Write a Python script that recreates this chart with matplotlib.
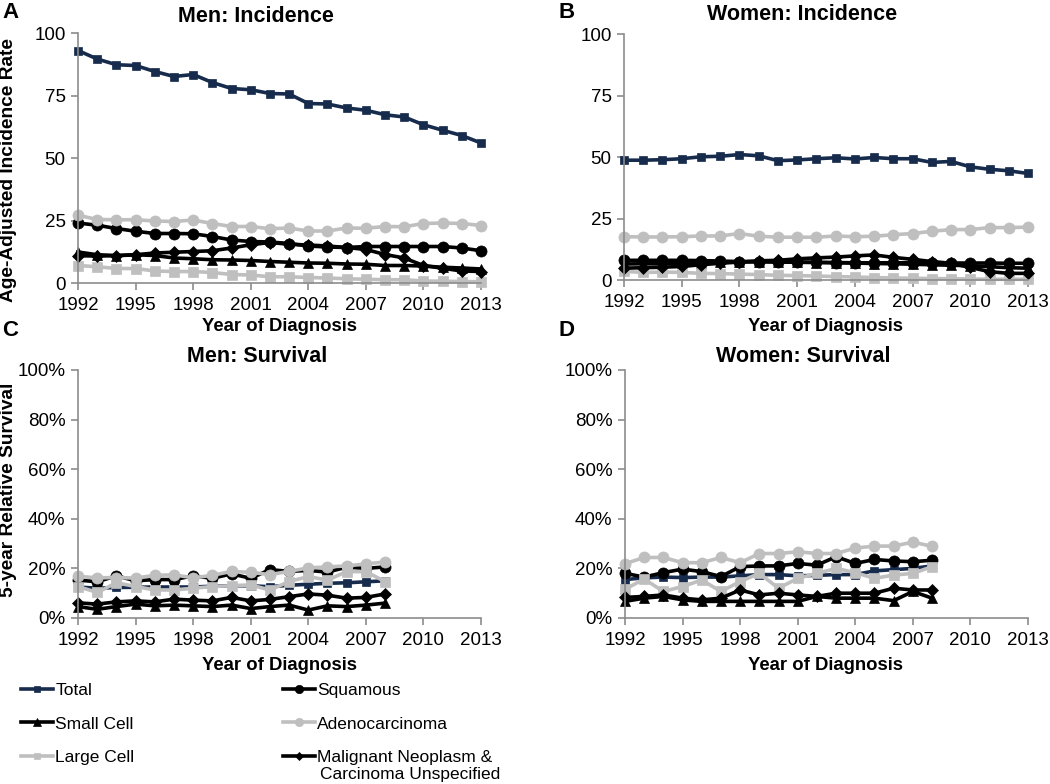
"""
Lung cancer incidence and 5-year relative survival by histologic type, men vs women.
"""

import numpy as np
import matplotlib.pyplot as plt
from matplotlib.ticker import PercentFormatter

plt.rcParams['font.family'] = ['Liberation Sans', 'DejaVu Sans']

# ---------------- data ----------------
years_inc = np.arange(1992, 2014)
years_surv = np.arange(1992, 2009)
xticks = [1992, 1995, 1998, 2001, 2004, 2007, 2010, 2013]

series_names = ['Total', 'Squamous', 'Small Cell', 'Adenocarcinoma',
                'Large Cell', 'Malignant Neoplasm &']

# men incidence (age-adjusted rate)
total_m = [93.0, 89.6, 87.3, 87.0, 84.6, 82.6, 83.4, 80.2, 77.8, 77.3, 75.8,
           75.6, 71.8, 71.6, 70.0, 69.1, 67.3, 66.4, 63.3, 61.1, 59.0, 56.0]
squam_m = [24.0, 23.1, 21.8, 20.7, 19.8, 19.8, 19.7, 18.6, 17.2, 16.6, 16.4,
           15.8, 14.8, 14.4, 14.2, 14.6, 14.6, 14.6, 14.6, 14.6, 14.0, 12.9]
small_m = [12.4, 11.3, 11.0, 11.3, 11.0, 10.0, 9.7, 9.3, 9.2, 9.0, 8.6,
           8.3, 8.0, 7.9, 7.6, 7.5, 7.0, 7.0, 6.8, 6.3, 6.0, 5.6]
adeno_m = [27.1, 25.4, 25.3, 25.3, 24.8, 24.6, 25.2, 23.8, 22.6, 22.6, 21.7,
           22.0, 20.8, 20.8, 22.0, 21.9, 22.6, 22.5, 23.8, 24.0, 23.8, 23.0]
large_m = [7.0, 6.5, 5.8, 5.8, 4.8, 4.6, 4.6, 4.2, 3.4, 3.2, 2.5,
           2.5, 2.2, 2.0, 1.7, 1.5, 1.3, 1.3, 0.8, 0.7, 0.6, 0.5]
malig_m = [10.9, 10.8, 10.9, 11.3, 12.0, 12.3, 12.6, 12.9, 14.0, 15.3, 16.2,
           15.5, 15.2, 14.8, 14.2, 13.4, 11.4, 10.0, 7.0, 5.9, 4.8, 4.6]

# women incidence
total_w = [48.7, 48.7, 48.9, 49.3, 50.1, 50.3, 51.0, 50.5, 48.5, 48.8, 49.3,
           49.7, 49.2, 49.8, 49.3, 49.3, 47.8, 48.2, 46.0, 45.0, 44.4, 43.3]
squam_w = [8.0, 8.0, 8.0, 8.0, 7.9, 7.7, 7.5, 7.5, 7.4, 7.3, 7.2,
           7.1, 7.0, 7.0, 7.0, 7.0, 6.9, 6.9, 6.9, 6.9, 6.8, 6.8]
small_w = [6.5, 6.6, 6.6, 6.8, 7.0, 7.2, 7.3, 7.4, 7.3, 7.2, 7.1,
           7.0, 6.9, 6.7, 6.6, 6.4, 6.2, 6.0, 5.8, 5.4, 5.0, 4.8]
adeno_w = [17.6, 17.5, 17.5, 17.6, 17.9, 17.9, 18.9, 17.8, 17.4, 17.4, 17.4,
           17.9, 17.6, 17.8, 18.4, 18.9, 19.8, 20.5, 20.5, 21.3, 21.3, 21.5]
large_w = [3.5, 3.1, 3.2, 3.1, 2.7, 2.6, 2.4, 2.2, 1.9, 1.8, 1.6,
           1.4, 1.2, 1.0, 0.8, 0.7, 0.6, 0.5, 0.4, 0.3, 0.3, 0.3]
malig_w = [4.8, 5.0, 5.2, 5.5, 6.2, 6.8, 7.3, 7.8, 8.0, 8.6, 9.0,
           9.3, 9.8, 10.2, 9.2, 8.4, 7.5, 6.8, 5.1, 3.4, 2.7, 2.7]

# men 5-year relative survival (%)
total_ms = [12.5, 12.0, 12.3, 12.4, 12.5, 12.5, 12.5, 12.8, 13.0, 13.0, 12.6,
            13.2, 13.6, 14.0, 14.2, 14.6, 15.0]
squam_ms = [15.3, 14.6, 17.0, 15.0, 15.5, 15.5, 17.0, 16.0, 17.8, 16.0, 19.5,
            18.8, 19.2, 18.5, 20.5, 20.0, 20.6]
small_ms = [4.6, 3.5, 4.6, 5.6, 4.9, 5.2, 4.9, 4.6, 5.2, 3.8, 4.6,
            5.2, 3.2, 4.9, 4.6, 5.2, 6.0]
adeno_ms = [16.8, 16.2, 16.3, 16.1, 17.2, 17.4, 16.2, 17.2, 18.8, 18.4, 17.5,
            18.8, 20.2, 20.6, 21.0, 21.8, 22.6]
large_ms = [12.7, 10.3, 14.2, 12.7, 11.3, 11.3, 12.0, 12.7, 13.0, 13.3, 11.3,
            14.7, 16.7, 15.3, 18.7, 18.7, 14.7]
malig_ms = [6.1, 5.6, 6.5, 6.9, 6.5, 7.6, 7.2, 6.9, 8.3, 6.9, 7.5,
            8.6, 9.7, 9.2, 8.0, 8.3, 9.7]

# women 5-year relative survival (%)
total_ws = [15.5, 16.2, 16.5, 16.3, 16.5, 16.5, 17.0, 17.5, 17.5, 17.0, 17.2,
            17.5, 17.5, 19.0, 19.5, 20.0, 21.0]
squam_ws = [18.0, 16.5, 18.3, 19.7, 18.7, 16.7, 20.7, 21.0, 21.0, 22.0, 21.3,
            24.7, 22.0, 23.6, 23.0, 22.7, 23.3]
small_ws = [6.7, 8.0, 8.7, 7.3, 6.7, 6.7, 6.7, 6.7, 6.7, 6.7, 8.7,
            8.0, 8.0, 8.0, 7.0, 10.7, 8.0]
adeno_ws = [21.9, 24.4, 24.4, 22.3, 22.3, 24.4, 22.3, 26.0, 26.0, 26.7, 26.0,
            26.0, 28.2, 29.0, 29.0, 30.6, 28.9]
large_ws = [11.6, 15.7, 10.7, 12.7, 15.3, 10.7, 14.7, 18.0, 12.0, 16.0, 18.0,
            20.0, 18.3, 16.0, 17.3, 18.0, 20.7]
malig_ws = [8.3, 8.7, 9.3, 8.0, 7.3, 8.0, 11.3, 9.3, 10.0, 9.3, 8.7,
            10.0, 10.0, 10.0, 12.0, 11.3, 11.3]

# ---------------- styles ----------------
NAVY = '#172b4d'
GRAY = '#bfbfbf'
SPINE = '#8c8c8c'
styles = [
    dict(color=NAVY, marker='s', markersize=6),
    dict(color='black', marker='o', markersize=8),
    dict(color='black', marker='^', markersize=7),
    dict(color=GRAY, marker='o', markersize=8),
    dict(color=GRAY, marker='s', markersize=6.5),
    dict(color='black', marker='D', markersize=6),
]


def style_axis(ax, ymax, yticks, percent=False):
    ax.set_xlim(1992, 2013)
    ax.set_ylim(0, ymax)
    ax.set_xticks(xticks)
    ax.set_yticks(yticks)
    for s in ['top', 'right']:
        ax.spines[s].set_visible(False)
    for s in ['left', 'bottom']:
        ax.spines[s].set_color(SPINE)
        ax.spines[s].set_linewidth(1.2)
    ax.tick_params(axis='both', colors=SPINE, labelcolor='black',
                   labelsize=13.5, length=5, width=1.2, direction='out')
    ax.tick_params(axis='x', pad=5)
    ax.tick_params(axis='y', pad=4)
    if percent:
        ax.yaxis.set_major_formatter(PercentFormatter(100, decimals=0))


def draw_panel(ax, years, data):
    handles = []
    for vals, st, name in zip(data, styles, series_names):
        h, = ax.plot(years, vals, linewidth=2.6, clip_on=False, label=name,
                     markeredgewidth=0.5, markeredgecolor=st['color'], **st)
        handles.append(h)
    return handles


fig = plt.figure(figsize=(10.5, 7.84), dpi=100)
W, H = 1050, 784


def add_ax(left, top, right, bottom):
    return fig.add_axes([left / W, 1 - bottom / H, (right - left) / W, (bottom - top) / H])


axA = add_ax(78, 33, 481, 283)
axB = add_ax(624, 34, 1028, 280)
axC = add_ax(78, 370, 481, 618)
axD = add_ax(625, 370, 1028, 618)

handles = draw_panel(axA, years_inc, [total_m, squam_m, small_m, adeno_m, large_m, malig_m])
draw_panel(axB, years_inc, [total_w, squam_w, small_w, adeno_w, large_w, malig_w])
draw_panel(axC, years_surv, [total_ms, squam_ms, small_ms, adeno_ms, large_ms, malig_ms])
draw_panel(axD, years_surv, [total_ws, squam_ws, small_ws, adeno_ws, large_ws, malig_ws])

for ax in (axA, axB):
    style_axis(ax, 100, [0, 25, 50, 75, 100])
for ax in (axC, axD):
    style_axis(ax, 100, [0, 20, 40, 60, 80, 100], percent=True)

# titles, panel letters, axis labels
title_kw = dict(fontsize=15.5, fontweight='bold', ha='center', va='center')
fig.text(256 / W, 1 - 16 / H, 'Men: Incidence', **title_kw)
fig.text(802 / W, 1 - 14 / H, 'Women: Incidence', **title_kw)
fig.text(257 / W, 1 - 357 / H, 'Men: Survival', **title_kw)
fig.text(803 / W, 1 - 357 / H, 'Women: Survival', **title_kw)

letter_kw = dict(fontsize=16, fontweight='bold', ha='center', va='center')
fig.text(10 / W, 1 - 13 / H, 'A', **letter_kw)
fig.text(567 / W, 1 - 12 / H, 'B', **letter_kw)
fig.text(10 / W, 1 - 331 / H, 'C', **letter_kw)
fig.text(567 / W, 1 - 331 / H, 'D', **letter_kw)

lab_kw = dict(fontsize=13.3, fontweight='bold', ha='center', va='center')
fig.text(280 / W, 1 - 326 / H, 'Year of Diagnosis', **lab_kw)
fig.text(826 / W, 1 - 326 / H, 'Year of Diagnosis', **lab_kw)
fig.text(280 / W, 1 - 665 / H, 'Year of Diagnosis', **lab_kw)
fig.text(826 / W, 1 - 665 / H, 'Year of Diagnosis', **lab_kw)
ylab_kw = dict(lab_kw, fontsize=13.8)
fig.text(9 / W, 1 - 170 / H, 'Age-Adjusted Incidence Rate', rotation=90, **ylab_kw)
fig.text(9 / W, 1 - 490 / H, '5-year Relative Survival', rotation=90, **ylab_kw)

# legend: column 1 = Total, Small Cell, Large Cell; column 2 = Squamous, Adeno, Malignant
order = [0, 2, 4, 1, 3, 5]
leg = fig.legend([handles[i] for i in order], [series_names[i] for i in order],
                 loc='upper left', bbox_to_anchor=(21 / W, 1 - 683 / H),
                 ncol=2, frameon=False, fontsize=12.5, borderpad=0, borderaxespad=0,
                 handlelength=1.85, handletextpad=0.12, columnspacing=8.55,
                 labelspacing=1.05, markerscale=0.75)

# second line of the last legend label, aligned under its first line
fig.canvas.draw()
renderer = fig.canvas.get_renderer()
bb = leg.get_texts()[-1].get_window_extent(renderer)
fig.text((bb.x0 + 3) / W, (bb.y0 - 2) / H, 'Carcinoma Unspecified',
         fontsize=12.5, ha='left', va='top')

fig.savefig('out.png', dpi=100)
